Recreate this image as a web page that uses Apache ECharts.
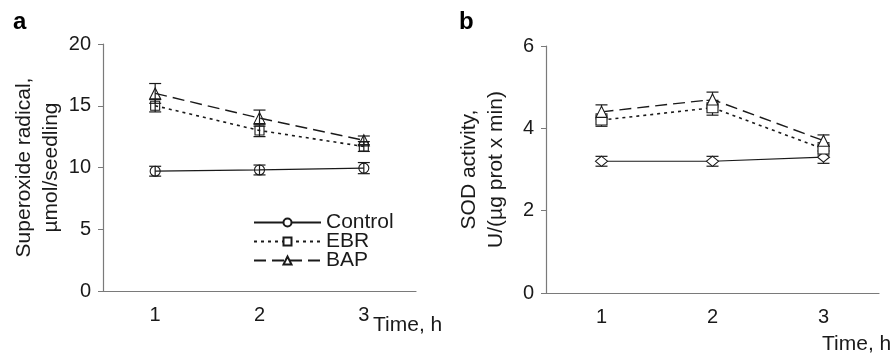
<!DOCTYPE html>
<html>
<head>
<meta charset="utf-8">
<script src="https://cdn.jsdelivr.net/npm/echarts@6/dist/echarts.min.js"></script>
<style>
  html, body { margin: 0; padding: 0; background: #fff; }
  #main { width: 894px; height: 354px; }
</style>
</head>
<body>
<div id="main"></div>
<script>
const times = ['1', '2', '3']
const seriesNames = ['Control', 'EBR', 'BAP']

// panel a: superoxide radical, µmol/seedling
const radControl = [9.7, 9.8, 9.95]
const radControlErr = [0.4, 0.4, 0.45]
const radEBR = [15.0, 13.0, 11.7]
const radEBRErr = [0.5, 0.5, 0.4]
const radBAP = [16.0, 14.0, 12.2]
const radBAPErr = [0.8, 0.65, 0.35]

// panel b: SOD activity
const sodControl = [3.2, 3.2, 3.3]
const sodControlErr = [0.12, 0.12, 0.15]
const sodEBR = [4.2, 4.5, 3.5]
const sodEBRErr = [0.15, 0.18, 0.15]
const sodBAP = [4.4, 4.7, 3.7]
const sodBAPErr = [0.17, 0.18, 0.14]

const font = "'Liberation Sans', Arial, sans-serif"
const ink = '#1a1a1a'
const axisGray = '#7a7a7a'

function errData(vals, errs) {
    return vals.map((v, i) => [i, v - errs[i], v + errs[i]])
}

function errSeries(name, vals, errs, axisIdx, z) {
    return {
        name: name,
        type: 'custom',
        xAxisIndex: axisIdx,
        yAxisIndex: axisIdx,
        z: z,
        silent: true,
        data: errData(vals, errs),
        renderItem: function (params, api) {
            const lo = api.coord([api.value(0), api.value(1)])
            const hi = api.coord([api.value(0), api.value(2)])
            const w = 6
            const style = { stroke: ink, lineWidth: 1.2 }
            return {
                type: 'group',
                children: [
                    { type: 'line', shape: { x1: lo[0], y1: lo[1], x2: hi[0], y2: hi[1] }, style: style },
                    { type: 'line', shape: { x1: lo[0] - w, y1: lo[1], x2: lo[0] + w, y2: lo[1] }, style: style },
                    { type: 'line', shape: { x1: hi[0] - w, y1: hi[1], x2: hi[0] + w, y2: hi[1] }, style: style }
                ]
            }
        }
    }
}

function lineSeries(name, data, axisIdx, symbol, size, dash, width, fill) {
    return {
        name: name,
        type: 'line',
        xAxisIndex: axisIdx,
        yAxisIndex: axisIdx,
        data: data,
        symbol: symbol,
        symbolSize: size,
        showAllSymbol: true,
        z: 4,
        itemStyle: { color: fill, borderColor: ink, borderWidth: 1.1 },
        lineStyle: { color: ink, width: width, type: dash },
        emphasis: { disabled: true }
    }
}

function xAxisOf(idx) {
    return {
        type: 'category',
        gridIndex: idx,
        data: times,
        boundaryGap: true,
        axisLine: { lineStyle: { color: axisGray, width: 1.2 } },
        axisTick: { length: 5, lineStyle: { color: axisGray } },
        axisLabel: { color: ink, fontSize: 20, fontFamily: font, margin: 14 }
    }
}

function yAxisOf(idx, max, interval, name) {
    return {
        type: 'value',
        gridIndex: idx,
        min: 0,
        max: max,
        interval: interval,
        name: name,
        nameLocation: 'middle',
        nameRotate: 90,
        nameGap: 36,
        nameTextStyle: { color: ink, fontSize: 21, fontFamily: font, lineHeight: 27 },
        splitLine: { show: false },
        axisLine: { show: true, lineStyle: { color: axisGray, width: 1.2 } },
        axisTick: { show: true, length: 5, lineStyle: { color: axisGray } },
        axisLabel: { color: ink, fontSize: 20, fontFamily: font, margin: 12 }
    }
}

const chart = echarts.init(document.getElementById('main'), null, { renderer: 'canvas' })

chart.setOption({
    animation: false,
    backgroundColor: '#fff',
    grid: [
        { left: 103, top: 44, width: 313, height: 247 },
        { left: 546, top: 46, width: 333, height: 247 }
    ],
    xAxis: [xAxisOf(0), xAxisOf(1)],
    yAxis: [
        yAxisOf(0, 20, 5, 'Superoxide radical,\nµmol/seedling'),
        yAxisOf(1, 6, 2, 'SOD activity,\nU/(µg prot x min)')
    ],
    legend: {
        data: seriesNames,
        orient: 'vertical',
        left: 248,
        top: 207,
        itemWidth: 67,
        itemHeight: 10,
        itemGap: -2,
        selectedMode: false,
        itemStyle: { color: '#fff' },
        textStyle: { color: ink, fontSize: 21, fontFamily: font, lineHeight: 19 }
    },
    graphic: [
        { type: 'text', left: 13, top: 10, style: { text: 'a', font: 'bold 24px ' + font, fill: '#000' } },
        { type: 'text', left: 459, top: 10, style: { text: 'b', font: 'bold 24px ' + font, fill: '#000' } },
        { type: 'text', left: 373, top: 315, style: { text: 'Time, h', font: '21px ' + font, fill: ink } },
        { type: 'text', left: 822, top: 334, style: { text: 'Time, h', font: '21px ' + font, fill: ink } }
    ],
    series: [
        lineSeries('Control', radControl, 0, 'circle', 10, 'solid', 1.2, 'rgba(255,255,255,0)'),
        lineSeries('EBR', radEBR, 0, 'rect', 9, [3, 4], 1.6, 'rgba(255,255,255,0)'),
        lineSeries('BAP', radBAP, 0, 'triangle', 11, [12, 6], 1.4, 'rgba(255,255,255,0)'),
        errSeries('Control', radControl, radControlErr, 0, 5),
        errSeries('EBR', radEBR, radEBRErr, 0, 5),
        errSeries('BAP', radBAP, radBAPErr, 0, 5),

        lineSeries('Control', sodControl, 1, 'diamond', [12, 10], 'solid', 1.2, '#fff'),
        lineSeries('EBR', sodEBR, 1, 'rect', [11, 10], [3, 4], 1.6, '#fff'),
        lineSeries('BAP', sodBAP, 1, 'triangle', 11, [12, 6], 1.4, '#fff'),
        errSeries('Control', sodControl, sodControlErr, 1, 2),
        errSeries('EBR', sodEBR, sodEBRErr, 1, 2),
        errSeries('BAP', sodBAP, sodBAPErr, 1, 2)
    ]
})
</script>
</body>
</html>
